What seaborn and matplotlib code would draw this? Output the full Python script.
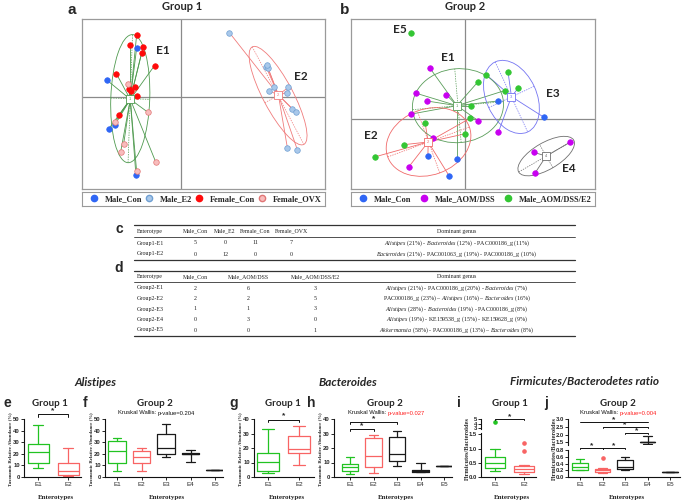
import numpy as np
import pandas as pd
import seaborn as sns
import matplotlib.pyplot as plt
from matplotlib.patches import Ellipse
from matplotlib.lines import Line2D

sns.set_theme(style="white")
plt.rcParams["font.family"] = ["Liberation Sans", "DejaVu Sans"]
plt.rcParams["mathtext.fontset"] = "custom"
plt.rcParams["mathtext.rm"] = "Liberation Serif"
plt.rcParams["mathtext.it"] = "Liberation Serif:italic"

W, H = 685, 504
TITLE = "Lato"
SERIF = "Liberation Serif"

# ---------------- data: panel a (Group 1 PCoA) ----------------
a_x = [-1.33, -2.23, -1.98, -2.17, -1.35,
       1.46, 2.56, 2.62, 2.58, 2.81, 3.23, 2.66, 3.20, 3.35, 3.45, 3.20, 3.50,
       -1.33, -1.52, -1.13, -1.18, -0.79, -1.94, -1.39, -1.56, -1.49, -1.33, -1.85,
       -1.60, -1.00, -1.98, -1.72, -1.81, -0.76, -1.33]
a_y = [1.45, 0.51, -0.83, -0.96, -2.34,
       1.92, 0.90, 0.86, 0.95, 0.29, 0.29, 0.18, 0.13, -0.36, -0.45, -1.52, -1.58,
       1.84, 1.56, 1.50, 1.31, 0.94, 0.70, 0.30, 0.25, 0.17, 0.03, -0.53,
       0.39, -0.45, -0.76, -1.41, -1.65, -1.93, -2.21]
a_group = ["Male_Con"] * 5 + ["Male_E2"] * 12 + ["Female_Con"] * 11 + ["Female_OVX"] * 7
a_cluster = ["E1"] * 5 + ["E2"] * 12 + ["E1"] * 18
a_centroids = {"E1": (-1.52, -0.07), "E2": (2.93, 0.06)}
a_ellipses = {"E1": (-1.52, -0.05, 1.17, 3.83, -2), "E2": (2.92, 0.04, 3.3, 0.9, -62)}
a_labels = {"E1": (-0.55, 1.39), "E2": (3.60, 0.60)}

# ---------------- data: panel b (Group 2 PCoA) ----------------
b_x = [0.98, 2.36, -1.12, -0.25, -0.49,
       -1.06, -1.47, -0.57, -1.15, -1.62, 0.39, -0.96, -1.69, 0.99, 3.13, 2.05, 2.09,
       -1.62, 0.63, 1.28, 1.59, 0.37, 1.18, 0.18, 0.15, -0.02, -1.20, -1.83, -2.69]
b_y = [0.53, 0.04, -1.11, -1.20, -1.69,
       1.51, 0.76, 0.72, 0.53, 0.14, -0.06, -0.57, -1.43, -0.40, -0.70, -1.00, -1.61,
       2.54, 1.31, 1.38, 0.92, 1.09, 0.84, 0.39, 0.02, -0.45, -0.14, -0.77, -1.13]
b_group = ["Male_Con"] * 5 + ["Male_AOM/DSS"] * 12 + ["Male_AOM/DSS/E2"] * 12
b_cluster = ["E1", "E3", "E2", "E1", "E2",
             "E1", "E1", "E1", "E1", "E1", "E1", "E2", "E2", "E3", "E4", "E4", "E4",
             "E5", "E3", "E3", "E3", "E1", "E1", "E1", "E2", "E2", "E2", "E2", "E2"]
b_centroids = {"E1": (-0.25, 0.39), "E2": (-1.11, -0.69), "E3": (1.38, 0.66), "E4": (2.42, -1.11)}
b_ellipses = {"E1": (-0.22, 0.39, 2.73, 2.2, 5), "E2": (-1.10, -0.69, 2.6, 1.96, 20),
              "E3": (1.38, 0.65, 2.3, 1.5, -65), "E4": (2.42, -1.11, 1.9, 0.8, 30)}
b_labels = {"E5": (-1.97, 2.66), "E1": (-0.52, 1.81), "E3": (2.61, 0.74),
            "E2": (-2.84, -0.51), "E4": (3.11, -1.49)}

# ---------------- data: tables c and d ----------------
c_header = ["Enterotype", "Male_Con", "Male_E2", "Female_Con", "Female_OVX", "Dominant genus"]
c_rows = ["Group1-E1", "Group1-E2"]
c_counts = [[5, 0, 11, 7], [0, 12, 0, 0]]
c_genus = [r"$\mathit{Alistipes}$ (21%) - $\mathit{Bacteroides}$ (12%) - PAC000186_g (11%)",
           r"$\mathit{Bacteroides}$ (21%) - PAC001063_g (19%) - PAC000186_g (10%)"]
d_header = ["Enterotype", "Male_Con", "Male_AOM/DSS", "Male_AOM/DSS/E2", "Dominant genus"]
d_rows = ["Group2-E1", "Group2-E2", "Group2-E3", "Group2-E4", "Group2-E5"]
d_counts = [[2, 6, 3], [2, 2, 5], [1, 1, 3], [0, 3, 0], [0, 0, 1]]
d_genus = [r"$\mathit{Alistipes}$ (21%) - PAC000186_g (20%) - $\mathit{Bacteroides}$ (7%)",
           r"PAC000186_g (23%) – $\mathit{Alistipes}$ (16%) – $\mathit{Bacteroides}$ (16%)",
           r"$\mathit{Alistipes}$ (28%) - $\mathit{Bacteroides}$ (19%) - PAC000186_g (8%)",
           r"$\mathit{Alistipes}$ (19%) - KE159538_g (15%) - KE159628_g (9%)",
           r"$\mathit{Akkermansia}$ (58%) - PAC000186_g (13%) – $\mathit{Bacteroides}$ (8%)"]

# ---------------- data: box plots (whislo, q1, median, q3, whishi) ----------------
ali_g1 = [[7.4, 12.4, 21.4, 28.8, 45.0], [0.5, 2.0, 5.0, 11.9, 25.2]]
ali_g2 = [[5.2, 12.4, 22.0, 30.9, 33.8], [5.6, 11.7, 17.3, 22.0, 24.8],
          [17.3, 19.8, 24.8, 37.5, 45.5], [12.6, 19.8, 20.2, 20.5, 23.2], [6.1] * 5]
bac_g1 = [[2.5, 4.1, 10.3, 16.6, 33.3], [8.1, 16.6, 19.3, 28.3, 35.1]]
bac_g2 = [[1.8, 4.0, 6.7, 9.0, 14.0], [2.7, 7.2, 14.4, 27.0, 29.2],
          [7.6, 11.2, 15.9, 27.4, 31.5], [3.2, 3.6, 4.1, 4.5, 9.7], [7.6] * 5]
fb_g1 = [[0.2, 0.32, 0.5, 0.7, 1.0], [0.11, 0.18, 0.27, 0.38, 0.42]]
fb_g1_out = [[4.3], [1.2, 0.9]]
fb_g2 = [[0.2, 0.22, 0.29, 0.41, 0.54], [0.12, 0.16, 0.2, 0.25, 0.28],
         [0.2, 0.24, 0.3, 0.51, 0.61], [1.42, 1.5, 1.53, 1.55, 1.95], [0.14] * 5]
fb_g2_out = [[], [0.57], [], [], []]
pvals = {"f": "p-value=0.204", "h": "p-value=0.027", "j": "p-value=0.004"}

PAL = {"Male_Con": "#2f66f5", "Male_E2": "#a9c8ea", "Female_Con": "#ff0a0a",
       "Female_OVX": "#f8bcbc", "Male_AOM/DSS": "#c800f0", "Male_AOM/DSS/E2": "#33c633"}
EDGE = {"Male_Con": "#2f66f5", "Male_E2": "#6f9fd2", "Female_Con": "#ff0a0a",
        "Female_OVX": "#e07575", "Male_AOM/DSS": "#c800f0", "Male_AOM/DSS/E2": "#33c633"}
A_CLU = {"E1": "#4f9a4f", "E2": "#f07c7c"}
B_CLU = {"E1": "#5a9d5a", "E2": "#f06a6a", "E3": "#7474f2", "E4": "#6f6f6f"}
BOX_COL = ["#22c322", "#f86464", "#1a1a1a", "#1a1a1a", "#1a1a1a"]

fig = plt.figure(figsize=(6.85, 5.04), dpi=100)
ov = fig.add_axes([0, 0, 1, 1])
ov.set_xlim(0, W)
ov.set_ylim(H, 0)
ov.axis("off")


def px_axes(x0, y0, x1, y1):
    return fig.add_axes([x0 / W, 1 - y1 / H, (x1 - x0) / W, (y1 - y0) / H])


def pcoa(box, df, centroids, ellipses, clu_col, labels, xlim, ylim):
    ax = px_axes(*box)
    ax.axhline(0, color="#8a8a8a", lw=0.9, zorder=0)
    ax.axvline(0, color="#8a8a8a", lw=0.9, zorder=0)
    for clu, (cx, cy) in centroids.items():
        sub = df[df.cluster == clu]
        for x, y in zip(sub.x, sub.y):
            ax.plot([cx, x], [cy, y], color=clu_col[clu], lw=0.6, zorder=1)
    for clu, (ex, ey, w, h, ang) in ellipses.items():
        ax.add_patch(Ellipse((ex, ey), w, h, angle=ang, fill=False, ec=clu_col[clu], lw=0.6))
        t = np.deg2rad(ang)
        ax.plot([ex - w / 2 * np.cos(t), ex + w / 2 * np.cos(t)],
                [ey - w / 2 * np.sin(t), ey + w / 2 * np.sin(t)],
                color=clu_col[clu], lw=0.5, ls=(0, (2, 1.5)), zorder=1)
        ax.plot([ex + h / 2 * np.sin(t), ex - h / 2 * np.sin(t)],
                [ey - h / 2 * np.cos(t), ey + h / 2 * np.cos(t)],
                color=clu_col[clu], lw=0.5, ls=(0, (2, 1.5)), zorder=1)
    for grp in df.group.unique():
        sns.scatterplot(data=df[df.group == grp], x="x", y="y", color=PAL[grp],
                        edgecolor=EDGE[grp], linewidth=0.5, s=16, ax=ax, zorder=3, legend=False)
    for clu, (cx, cy) in centroids.items():
        ax.scatter(cx, cy, marker="s", s=32, fc="white", ec=clu_col[clu], lw=0.6, zorder=4)
        ax.text(cx, cy, clu[1], fontsize=3, ha="center", va="center", color=clu_col[clu], zorder=5)
    for name, (lx, ly) in labels.items():
        ax.text(lx, ly, name, fontfamily=TITLE, fontweight="bold", fontsize=8.5,
                ha="center", va="center")
    ax.set(xlim=xlim, ylim=ylim, xticks=[], yticks=[], xlabel="", ylabel="")
    for s in ax.spines.values():
        s.set_color("#9a9a9a")
        s.set_linewidth(0.9)
    return ax


def legend_box(box, groups):
    lax = px_axes(*box)
    lax.set_xticks([])
    lax.set_yticks([])
    for s in lax.spines.values():
        s.set_color("#9a9a9a")
        s.set_linewidth(0.8)
    handles = [Line2D([], [], marker="o", ls="", mfc=PAL[g], mec=EDGE[g], ms=4.5, label=g)
               for g in groups]
    lax.legend(handles=handles, loc="center", ncol=len(groups), frameon=False, mode="expand",
               bbox_to_anchor=(0.0, 0, 1.0, 1), borderaxespad=0, handletextpad=0.3,
               prop=dict(family=SERIF, weight="bold", size=6))


df_a = pd.DataFrame({"x": a_x, "y": a_y, "group": a_group, "cluster": a_cluster})
df_b = pd.DataFrame({"x": b_x, "y": b_y, "group": b_group, "cluster": b_cluster})
pcoa((82, 19, 325, 189), df_a, a_centroids, a_ellipses, A_CLU, a_labels, (-2.97, 4.33), (-2.75, 2.33))
pcoa((351, 19, 595, 189), df_b, b_centroids, b_ellipses, B_CLU, b_labels, (-3.42, 3.88), (-2.09, 2.97))
legend_box((82, 192, 325, 206), ["Male_Con", "Male_E2", "Female_Con", "Female_OVX"])
legend_box((351, 192, 595, 206), ["Male_Con", "Male_AOM/DSS", "Male_AOM/DSS/E2"])

ov.text(72, 10, "a", fontsize=11, fontweight="bold", ha="center", va="center")
ov.text(345, 10, "b", fontsize=11, fontweight="bold", ha="center", va="center")
ov.text(182, 7, "Group 1", fontfamily=TITLE, fontsize=8, fontweight="bold", ha="center", va="center")
ov.text(465, 6, "Group 2", fontfamily=TITLE, fontsize=8, fontweight="bold", ha="center", va="center")


# ---------------- tables ----------------
def table(letter, ly, header, rows, counts, genus, colx, lines, hy, rys):
    ov.text(119, ly, letter, fontsize=10, fontweight="bold", ha="center", va="center")
    for y, lw in zip(lines, [0.9, 0.6, 0.9]):
        ov.plot([134, 575], [y, y], color="#333333", lw=lw)
    for x, h in zip(colx, header):
        ov.text(x, hy, h, fontfamily=SERIF, fontsize=4.2, ha="center", va="center", color="#222")
    for ry, name, cnt, gen in zip(rys, rows, counts, genus):
        vals = [name] + [str(v) for v in cnt] + [gen]
        for x, v in zip(colx, vals):
            ov.text(x, ry, v, fontfamily=SERIF, fontsize=4.3, ha="center", va="center", color="#222")


table("c", 229, c_header, c_rows, c_counts, c_genus, [150, 195, 225, 255, 291, 457],
      [225, 236.5, 259.5], 231, [243, 254])
table("d", 268, d_header, d_rows, d_counts, d_genus, [150, 195, 248, 315, 457],
      [271, 282, 336], 276.5, [288, 298.5, 309, 319.5, 330])

# ---------------- box plots ----------------
TOP, BOT = 419, 477


def boxes(ax, stats, outs=None):
    for i, s in enumerate(stats):
        c = BOX_COL[i]
        b = dict(whislo=s[0], q1=s[1], med=s[2], q3=s[3], whishi=s[4],
                 fliers=outs[i] if outs else [])
        ax.bxp([b], positions=[i], widths=0.7, capwidths=0.36, showfliers=True,
               boxprops=dict(color=c, lw=0.9), whiskerprops=dict(color=c, lw=0.9),
               capprops=dict(color=c, lw=0.9), medianprops=dict(color=c, lw=0.9),
               flierprops=dict(marker="o", mfc=c, mec=c, ms=2.3, ls=""))


def style(ax, lay, ylim, yticks, ylabels, n, xaxis=True):
    x0, c1, d, x1 = lay
    ax.set_xlim(-(c1 - x0) / d, (x1 - c1) / d)
    ax.set_ylim(*ylim)
    ax.set_yticks(yticks, ylabels, fontweight="bold", fontsize=4.2)
    ax.spines[["top", "right"]].set_visible(False)
    for s in ["left", "bottom"]:
        ax.spines[s].set_color("#111")
        ax.spines[s].set_linewidth(0.8)
    ax.tick_params(axis="y", left=True, length=2, width=0.7, pad=1)
    if xaxis:
        ax.set_xticks(range(n), [f"E{i + 1}" for i in range(n)], fontsize=4.5)
        ax.tick_params(axis="x", bottom=True, length=2, width=0.7, pad=1.5)
    else:
        ax.spines["bottom"].set_visible(False)
        ax.set_xticks([])
    ax.patch.set_alpha(0)
    ax.set_xlabel("")
    ax.set_ylabel("")


def bracket(ax, a, b, y, h, yoff):
    ax.plot([a, a, b, b], [y - h, y, y, y - h], color="#111", lw=0.7, clip_on=False)
    ax.text((a + b) / 2, y + yoff, "*", fontsize=6, ha="center", va="center", fontweight="bold")


def simple_panel(lay, stats, ymax, step):
    x0, c1, d, x1 = lay
    ax = px_axes(x0, TOP, x1, BOT)
    boxes(ax, stats)
    ticks = list(range(0, ymax + 1, step))
    style(ax, lay, (0, ymax), ticks, [str(t) for t in ticks], len(stats))
    return ax


LAY = {"e": (24, 38, 30, 81), "f": (105, 117, 24.5, 223), "g": (254, 268, 31, 314),
       "h": (334, 350, 23.5, 452), "i": (481, 495, 29, 536), "j": (568, 580, 22.5, 680)}

ax_e = simple_panel(LAY["e"], ali_g1, 50, 10)
bracket(ax_e, 0, 1, 54, 2, 3)
ax_f = simple_panel(LAY["f"], ali_g2, 50, 10)
ax_g = simple_panel(LAY["g"], bac_g1, 40, 10)
bracket(ax_g, 0, 1, 39.5, 1.6, 2.5)
ax_h = simple_panel(LAY["h"], bac_g2, 40, 10)
bracket(ax_h, 0, 1, 33, 1.6, 2.5)
bracket(ax_h, 0, 2, 38, 1.6, 2.5)

# broken axes i
x0, c1, d, x1 = LAY["i"]
i_top = px_axes(x0, 418.5, x1, 429)
boxes(i_top, fb_g1, fb_g1_out)
style(i_top, LAY["i"], (2.85, 5.1), [3, 4, 5], ["3", "4", "5"], 2, xaxis=False)
bracket(i_top, 0, 1, 4.95, 0.25, 0.5)
i_bot = px_axes(x0, 433, x1, BOT)
boxes(i_bot, fb_g1, fb_g1_out)
style(i_bot, LAY["i"], (0, 1.55), [0, 0.5, 1.0, 1.5], ["0.0", "0.5", "1.0", "1.5"], 2)

# broken axes j
x0, c1, d, x1 = LAY["j"]
j_top = px_axes(x0, 418.5, x1, 444.5)
boxes(j_top, fb_g2, fb_g2_out)
style(j_top, LAY["j"], (1.37, 3.05), [1.5, 2.0, 2.5, 3.0], ["1.5", "2.0", "2.5", "3.0"], 5, xaxis=False)
bracket(j_top, 0, 3, 2.85, 0.05, 0.13)
bracket(j_top, 1, 3, 2.5, 0.05, 0.13)
bracket(j_top, 2, 3, 2.12, 0.05, 0.13)
j_bot = px_axes(x0, 449.5, x1, BOT)
boxes(j_bot, fb_g2, fb_g2_out)
style(j_bot, LAY["j"], (0, 0.82), [0, 0.2, 0.4, 0.6, 0.8], ["0.0", "0.2", "0.4", "0.6", "0.8"], 5)
bracket(j_bot, 0, 1, 0.86, 0.025, 0.07)
bracket(j_bot, 1, 2, 0.86, 0.025, 0.07)

# ---------------- bottom titles and labels ----------------
for x, t in [(95, "Alistipes"), (348, "Bacteroides"), (585, "Firmicutes/Bacterodetes ratio")]:
    ov.text(x, 382, t, fontfamily=TITLE, fontsize=8.5, fontweight="bold", fontstyle="italic",
            ha="center", va="center")

for letter, lx, gx, g in [("e", 7, 50, "Group 1"), ("f", 85, 155, "Group 2"),
                          ("g", 234, 283, "Group 1"), ("h", 311, 385, "Group 2"),
                          ("i", 459, 510, "Group 1"), ("j", 546, 618, "Group 2")]:
    ov.text(lx, 403, letter, fontsize=10, fontweight="bold", ha="center", va="center")
    ov.text(gx, 403, g, fontfamily=TITLE, fontsize=7, fontweight="bold", ha="center", va="center")

for key, cx in [("f", 158), ("h", 388), ("j", 620)]:
    col = "#111" if key == "f" else "#ff2020"
    ov.text(cx, 413, "Kruskal Wallis: ", fontsize=4.2, ha="right", va="center", color="#111")
    ov.text(cx, 413, pvals[key], fontsize=4.2, ha="left", va="center", color=col)

for key, lab in [("e", "Taxonomic Relative Abundance (%)"), ("f", "Taxonomic Relative Abundance (%)"),
                 ("g", "Taxonomic Relative Abundance (%)"), ("h", "Taxonomic Relative Abundance (%)"),
                 ("i", "Firmicutes/Bacteroides"), ("j", "Firmicutes/Bacteroides")]:
    x0, c1, d, x1 = LAY[key]
    fs = 3.4 if key in "efgh" else 4.6
    ov.text(x0 - 14, (TOP + BOT) / 2 + 1, lab, rotation=90, fontfamily=SERIF, fontweight="bold",
            fontsize=fs, ha="center", va="center")
    ov.text((x0 + x1) / 2 + 3, 497, "Enterotypes", fontfamily=SERIF, fontweight="bold",
            fontsize=5, ha="center", va="center")

fig.savefig("out.png", dpi=100)
